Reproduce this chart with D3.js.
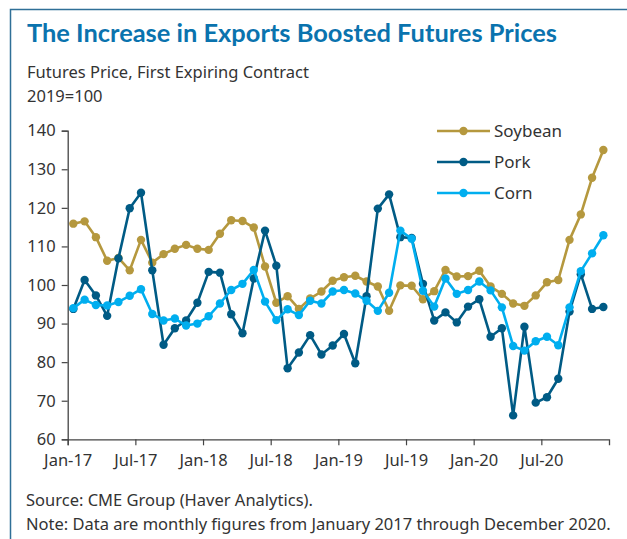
<!DOCTYPE html>
<html>
<head>
<meta charset="utf-8">
<script src="https://cdn.jsdelivr.net/npm/d3@7"></script>
<style>
  html, body { margin: 0; padding: 0; background: #fff; }
  svg { display: block; font-family: "Noto Sans", "Open Sans", sans-serif; }
</style>
</head>
<body>
<div id="chart"></div>
<script>
// monthly values, Jan 2017 .. Dec 2020 (2019=100)
var soybean = [
  115.9, 116.5, 112.4, 106.3, 107.0, 103.8, 111.7, 105.8, 108.0, 109.4, 110.4, 109.4,
  109.1, 113.3, 116.8, 116.6, 114.9, 104.8, 95.4, 97.1, 93.8, 96.5, 98.3, 101.1,
  102.0, 102.4, 100.9, 99.6, 93.3, 99.9, 99.8, 96.3, 98.4, 103.9, 102.2, 102.3,
  103.7, 99.6, 97.7, 95.2, 94.6, 97.3, 100.7, 101.3, 111.7, 118.3, 127.8, 135.0
];
var pork = [
  93.8, 101.3, 97.3, 92.0, 106.9, 119.9, 123.9, 103.8, 84.5, 88.8, 90.8, 95.4,
  103.4, 103.2, 92.4, 87.5, 101.7, 114.1, 105.0, 78.4, 82.5, 87.0, 82.0, 84.3,
  87.3, 79.7, 97.1, 119.8, 123.5, 112.4, 112.2, 100.3, 90.8, 92.9, 90.3, 94.4,
  96.3, 86.6, 88.8, 66.2, 89.2, 69.5, 70.9, 75.7, 93.1, 102.8, 93.8, 94.3
];
var corn = [
  94.0, 96.2, 94.8, 94.7, 95.6, 97.2, 98.9, 92.5, 90.8, 91.3, 89.5, 90.0,
  91.9, 95.2, 98.7, 100.3, 103.9, 95.7, 90.9, 93.7, 92.2, 95.9, 95.2, 98.3,
  98.7, 97.8, 95.9, 93.3, 98.0, 114.1, 112.0, 98.5, 94.4, 101.7, 97.7, 98.7,
  100.9, 98.6, 94.2, 84.2, 83.0, 85.4, 86.6, 84.4, 94.2, 103.6, 108.2, 112.9
];
var tickLabels = ["Jan-17", "Jul-17", "Jan-18", "Jul-18", "Jan-19", "Jul-19", "Jan-20", "Jul-20"];
var yTicks = [60, 70, 80, 90, 100, 110, 120, 130, 140];

var series = [
  { name: "Soybean", values: soybean, color: "#b5983e" },
  { name: "Pork", values: pork, color: "#005b85" },
  { name: "Corn", values: corn, color: "#00aeef" }
];

var width = 627, height = 539;
var textColor = "#333";
var fs = 16.5;

var svg = d3.select("#chart").append("svg")
  .attr("width", width)
  .attr("height", height);

// frame: top and left rule
svg.append("path")
  .attr("d", "M10.5," + height + "V9.5H" + width)
  .attr("fill", "none")
  .attr("stroke", "#2f6f97")
  .attr("stroke-width", 1.5);

// title + subtitles
svg.append("text")
  .attr("x", 27).attr("y", 42)
  .attr("fill", "#0a73ae")
  .attr("font-family", "Lato, 'Noto Sans', sans-serif")
  .attr("font-size", 25)
  .attr("font-weight", 700)
  .attr("textLength", 530)
  .attr("lengthAdjust", "spacingAndGlyphs")
  .text("The Increase in Exports Boosted Futures Prices");

svg.append("text")
  .attr("x", 27).attr("y", 78)
  .attr("fill", textColor)
  .attr("font-size", fs)
  .text("Futures Price, First Expiring Contract");

svg.append("text")
  .attr("x", 27).attr("y", 102)
  .attr("fill", textColor)
  .attr("font-size", fs)
  .text("2019=100");

// scales
var x = d3.scaleLinear().domain([0, 48]).range([67.7, 609]);
var y = d3.scaleLinear().domain([60, 140]).range([439.3, 130.7]);

// axes
var xAxis = svg.append("g")
  .attr("transform", "translate(0," + y(60) + ")")
  .call(d3.axisBottom(x)
    .tickValues(tickLabels.map(function(d, i) { return i * 6; }))
    .tickFormat(function(d) { return tickLabels[d / 6]; })
    .tickSizeOuter(0)
    .tickSize(6)
    .tickPadding(9));

var yAxis = svg.append("g")
  .attr("transform", "translate(" + x(0) + ",0)")
  .call(d3.axisLeft(y)
    .tickValues(yTicks)
    .tickSizeOuter(0)
    .tickSize(6)
    .tickPadding(6));

[xAxis, yAxis].forEach(function(g) {
  g.select(".domain").attr("stroke", "#444").attr("stroke-width", 1.3);
  g.selectAll(".tick line").attr("stroke", "#444").attr("stroke-width", 1.2);
  g.selectAll(".tick text")
    .attr("fill", textColor)
    .attr("font-size", fs)
    .attr("font-family", "'Noto Sans', sans-serif");
});

// lines + markers
var line = d3.line()
  .x(function(d, i) { return x(i + 0.5); })
  .y(function(d) { return y(d); });

var sg = svg.append("g").selectAll("g")
  .data(series)
  .enter().append("g");

sg.append("path")
  .attr("d", function(s) { return line(s.values); })
  .attr("fill", "none")
  .attr("stroke", function(s) { return s.color; })
  .attr("stroke-width", 2.6)
  .attr("stroke-linejoin", "round");

sg.selectAll("circle")
  .data(function(s) { return s.values.map(function(v) { return { v: v, c: s.color }; }); })
  .enter().append("circle")
  .attr("cx", function(d, i) { return x(i + 0.5); })
  .attr("cy", function(d) { return y(d.v); })
  .attr("r", 4.2)
  .attr("fill", function(d) { return d.c; });

// legend
var lg = svg.append("g").selectAll("g")
  .data(series)
  .enter().append("g")
  .attr("transform", function(s, i) { return "translate(437," + (131 + i * 31) + ")"; });

lg.append("line")
  .attr("x1", 0).attr("x2", 53)
  .attr("stroke", function(s) { return s.color; })
  .attr("stroke-width", 2.6);

lg.append("circle")
  .attr("cx", 26.5).attr("r", 4.2)
  .attr("fill", function(s) { return s.color; });

lg.append("text")
  .attr("x", 57).attr("dy", "0.35em")
  .attr("fill", textColor)
  .attr("font-size", 17)
  .text(function(s) { return s.name; });

// footnotes
svg.append("text")
  .attr("x", 26).attr("y", 506)
  .attr("fill", textColor)
  .attr("font-size", fs)
  .text("Source: CME Group (Haver Analytics).");

svg.append("text")
  .attr("x", 26).attr("y", 530)
  .attr("fill", textColor)
  .attr("font-size", fs)
  .text("Note: Data are monthly figures from January 2017 through December 2020.");
</script>
</body>
</html>
